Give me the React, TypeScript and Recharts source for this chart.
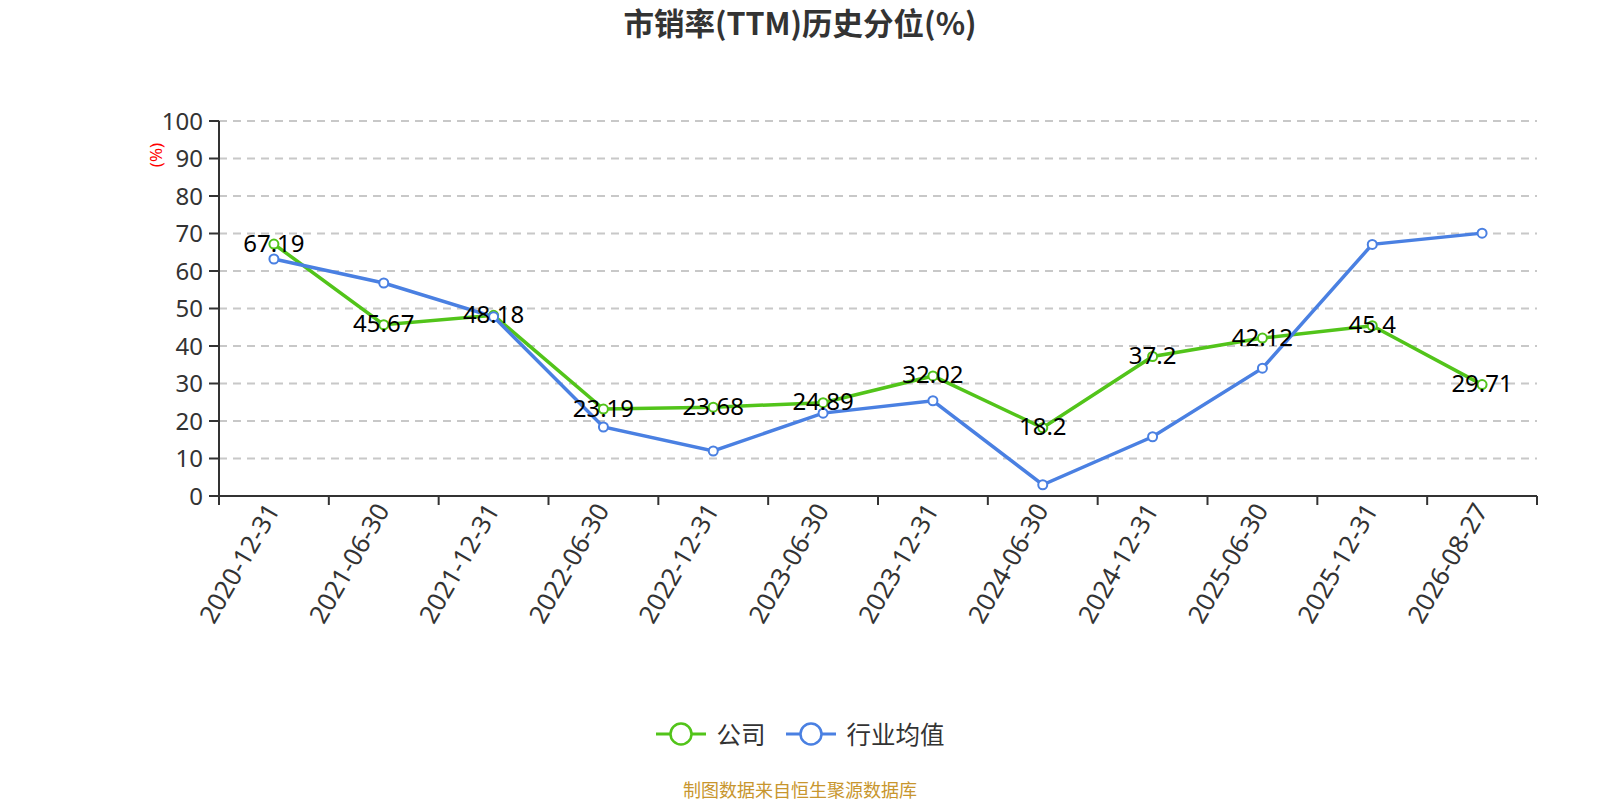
import { LineChart, Line, XAxis, YAxis, CartesianGrid, LabelList, Label } from "recharts";

const categories = [
  "2020-12-31",
  "2021-06-30",
  "2021-12-31",
  "2022-06-30",
  "2022-12-31",
  "2023-06-30",
  "2023-12-31",
  "2024-06-30",
  "2024-12-31",
  "2025-06-30",
  "2025-12-31",
  "2026-08-27",
];
const companyValues = [67.19, 45.67, 48.18, 23.19, 23.68, 24.89, 32.02, 18.2, 37.2, 42.12, 45.4, 29.71];
const industryValues = [63.2, 56.8, 47.8, 18.4, 12.0, 22.1, 25.4, 3.0, 15.8, 34.1, 67.1, 70.1];
const yTicks = [0, 10, 20, 30, 40, 50, 60, 70, 80, 90, 100];

const GREEN = "#52c41a";
const BLUE = "#4a80e2";
const FONT = "'Noto Sans', 'Noto Sans CJK SC', sans-serif";

const W = 1600;
const H = 800;
const PLOT_LEFT = 219;
const PLOT_RIGHT = 1537;
const PLOT_TOP = 121;
const PLOT_BOTTOM = 496;
const Y_AXIS_W = 70;
const X_AXIS_H = 150;
const BAND = (PLOT_RIGHT - PLOT_LEFT) / categories.length;
const X_TICK_SIZE = 6;
const X_TICK_MARGIN = 2;

const data = categories.map((date, i) => ({
  date,
  company: companyValues[i],
  industry: industryValues[i],
}));

function DateTick(props: any) {
  const { x, y, payload, index } = props;
  const axisY = y - X_TICK_SIZE - X_TICK_MARGIN;
  const lx = x - 2;
  const ly = axisY + 9;
  return (
    <g>
      <line x1={x - BAND / 2} x2={x - BAND / 2} y1={axisY} y2={axisY + 9} stroke="#333" strokeWidth={2} />
      {index === categories.length - 1 && (
        <line x1={x + BAND / 2} x2={x + BAND / 2} y1={axisY} y2={axisY + 9} stroke="#333" strokeWidth={2} />
      )}
      <text
        x={lx}
        y={ly}
        transform={`rotate(-60 ${lx} ${ly})`}
        textAnchor="end"
        dominantBaseline="central"
        fontSize={25.5}
        fontFamily={FONT}
        fill="#333"
      >
        {payload.value}
      </text>
    </g>
  );
}

function ValueLabel(props: any) {
  const { x, y, value } = props;
  return (
    <text x={x} y={y - 2} textAnchor="middle" dominantBaseline="central" fontSize={24} fontFamily={FONT} fill="#000">
      {value}
    </text>
  );
}

function LegendItem({ color, label }: { color: string; label: string }) {
  return (
    <div style={{ display: "flex", alignItems: "center", marginRight: 20 }}>
      <svg width={50} height={26} style={{ marginRight: 11 }}>
        <line x1={0} x2={50} y1={13} y2={13} stroke={color} strokeWidth={3} />
        <circle cx={25} cy={13} r={10.5} fill="#fff" stroke={color} strokeWidth={2.5} />
      </svg>
      <span style={{ fontSize: 24.5, color: "#333" }}>{label}</span>
    </div>
  );
}

export default function App() {
  return (
    <div style={{ position: "absolute", left: 0, top: 0, width: W, height: H, background: "#fff", fontFamily: FONT }}>
      <div
        style={{
          position: "absolute",
          top: 0,
          left: 0,
          width: W,
          textAlign: "center",
          fontSize: 30.5,
          fontWeight: "bold",
          color: "#333",
          fontFamily: "'Noto Sans CJK SC', sans-serif",
        }}
      >
        市销率(TTM)历史分位(%)
      </div>
      <LineChart
        width={W}
        height={H}
        data={data}
        margin={{
          top: PLOT_TOP,
          right: W - PLOT_RIGHT,
          left: PLOT_LEFT - Y_AXIS_W,
          bottom: H - PLOT_BOTTOM - X_AXIS_H,
        }}
      >
        <CartesianGrid vertical={false} stroke="#c8c8c8" strokeWidth={1.8} strokeDasharray="8 6" />
        <XAxis
          dataKey="date"
          scale="band"
          interval={0}
          height={X_AXIS_H}
          tickLine={false}
          tickSize={X_TICK_SIZE}
          tickMargin={X_TICK_MARGIN}
          axisLine={{ stroke: "#333", strokeWidth: 2 }}
          tick={<DateTick />}
        />
        <YAxis
          domain={[0, 100]}
          ticks={yTicks}
          interval={0}
          width={Y_AXIS_W}
          tickSize={10}
          tickMargin={6}
          axisLine={{ stroke: "#333", strokeWidth: 2 }}
          tickLine={{ stroke: "#333", strokeWidth: 2 }}
          tick={{ fontSize: 24, fill: "#333", fontFamily: FONT }}
        >
          <Label
            content={(p: any) => {
              const vb = p.viewBox || {};
              const cx = vb.x + 6;
              const cy = vb.y + 34;
              return (
                <text
                  x={cx}
                  y={cy}
                  transform={`rotate(-90 ${cx} ${cy})`}
                  textAnchor="middle"
                  dominantBaseline="central"
                  fontSize={17}
                  fontFamily={FONT}
                  fill="#ff0000"
                >
                  (%)
                </text>
              );
            }}
          />
        </YAxis>
        <Line
          type="linear"
          dataKey="company"
          stroke={GREEN}
          strokeWidth={3.5}
          dot={{ r: 4.5, fill: "#fff", stroke: GREEN, strokeWidth: 2 }}
          activeDot={false}
          isAnimationActive={false}
        >
          <LabelList dataKey="company" content={<ValueLabel />} />
        </Line>
        <Line
          type="linear"
          dataKey="industry"
          stroke={BLUE}
          strokeWidth={3.5}
          dot={{ r: 4.5, fill: "#fff", stroke: BLUE, strokeWidth: 2 }}
          activeDot={false}
          isAnimationActive={false}
        />
      </LineChart>
      <div
        style={{
          position: "absolute",
          top: 716,
          left: 0,
          width: W,
          display: "flex",
          justifyContent: "center",
          fontFamily: "'Noto Sans CJK SC', sans-serif",
        }}
      >
        <div style={{ display: "flex", marginLeft: 20 }}>
          <LegendItem color={GREEN} label="公司" />
          <LegendItem color={BLUE} label="行业均值" />
        </div>
      </div>
      <div
        style={{
          position: "absolute",
          top: 776,
          left: 0,
          width: W,
          textAlign: "center",
          fontSize: 18,
          color: "#c8962e",
          fontFamily: "'Noto Sans CJK SC', sans-serif",
        }}
      >
        制图数据来自恒生聚源数据库
      </div>
    </div>
  );
}
